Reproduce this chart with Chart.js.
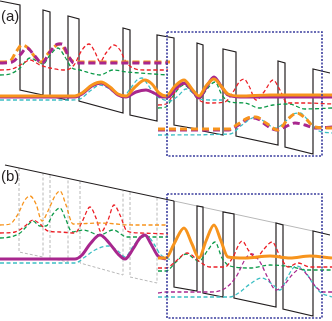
<!DOCTYPE html>
<html>
<head>
<meta charset="utf-8">
<script src="https://cdn.jsdelivr.net/npm/chart.js@4/dist/chart.umd.min.js"></script>
<style>
html,body{margin:0;padding:0;background:#fff;}
#wrap{position:relative;width:332px;height:321px;}
</style>
</head>
<body>
<div id="wrap"><canvas id="c" width="332" height="321"></canvas></div>
<script>
// ---- panel labels ----
const panelLabels = ["(a)", "(b)"];
const panelLabelPos = [[1, 17], [1, 177]];

// ---- band profiles (x, energy) ----
const bandA = [[0,1],[20,5],[20,90],[43,95],[43,10],[50,12],[50,96],[68,100],[68,16],[79,19],[79,101],[123,113],[123,28],[130,30],[130,115],[157,121],[157,35],[174,38],[174,125],[197,129],[197,43],[203,45],[203,131],[223,135],[223,49],[236,52],[236,136],[278,145],[278,61],[285,63],[285,147],[313,154],[313,69],[330,73]];
const bandBTop = [[5,165],[174,201]];
const bandBTopGray = [[174,201],[313,231]];
const bandBBox = [[174,201],[174,287],[197,291],[197,206],[203,207],[203,293],[223,297],[223,212],[234,214],[234,298],[276,307],[276,223],[283,225],[283,309],[313,316],[313,231],[330,235]];
const bandBGrayLeft = [[19,168],[19,252],[43,257],[43,173],[43,null],[50,175],[50,258],[68,262],[68,179],[68,null],[80,181],[80,263],[123,275],[123,191],[123,null],[130,192],[130,277],[157,283],[157,198]];

// ---- field regions (dashed boxes) ----
const boxA = [[167,32],[322,32],[322,156],[167,156],[167,32]];
const boxB = [[167,194],[322,194],[322,318],[167,318],[167,194]];

// ---- panel (a) states ----
const aOrangeUp = [[0,62],[10,61],[16,52],[22,45],[28,48],[35,57],[41,62],[47,55],[54,47],[60,44],[65,50],[70,59],[76,62],[100,62],[140,62],[170,62]];
const aMagentaUp = [[0,63],[12,62],[20,55],[27,48],[34,55],[42,63],[50,52],[58,44],[62,44],[68,55],[74,63],[100,63],[168,63]];
const aRedUp = [[0,70],[12,69],[22,64],[30,60],[40,65],[50,68],[65,70],[74,65],[82,50],[89,44],[95,52],[100,62],[106,53],[114,45],[120,50],[126,62],[133,68],[145,70],[168,70]];
const aGreenUp = [[0,75],[10,74],[20,68],[30,58],[37,61],[43,64],[50,55],[58,48],[65,57],[72,68],[80,70],[90,73],[100,75],[113,70],[127,72],[140,73],[168,75]];
const aOrangeSolid = [[0,96],[75,96],[82,93],[92,85],[101,82],[110,87],[118,94],[126,96],[134,88],[145,80],[152,84],[159,93],[166,96],[175,86],[184,80],[192,89],[199,96],[206,86],[214,79],[221,86],[228,94],[240,96],[270,95],[300,95],[332,95]];
const aMagentaSolid = [[0,97],[75,97],[82,94],[92,86],[101,83],[110,88],[118,95],[126,97],[136,92],[146,90],[154,93],[162,97],[168,97],[176,88],[184,83],[192,90],[199,98],[206,88],[214,77],[221,86],[228,95],[240,97],[332,97]];
const aCyanMid = [[0,100],[72,100],[80,99],[90,91],[100,85],[108,88],[115,93],[123,97],[130,89],[137,80],[142,78],[148,85],[155,95],[162,99],[170,101],[178,96],[186,89],[193,93],[200,99],[210,100],[222,100]];
const aRedMid = [[158,105],[166,104],[175,92],[184,84],[191,90],[199,100],[210,103],[225,102],[233,92],[240,81],[244,79],[249,86],[256,100],[264,92],[273,80],[280,90],[287,103],[305,103],[332,104]];
const aGreenMid = [[158,108],[166,107],[175,93],[184,85],[192,92],[199,99],[207,89],[215,82],[222,95],[230,102],[245,103],[259,108],[273,105],[289,104],[305,109],[332,108]];
const aOrangeLow = [[158,129],[229,129],[238,124],[248,118],[256,117],[266,123],[278,130],[288,119],[297,113],[305,118],[315,127],[332,128]];
const aMagentaLow = [[158,130],[229,130],[240,124],[250,118],[258,119],[266,125],[276,130],[285,127],[295,123],[305,125],[315,128],[332,127]];
const aCyanLow = [[158,135],[230,134],[242,125],[256,117],[265,122],[275,128],[283,124],[293,114],[300,113],[308,120],[319,131],[332,133]];

// ---- panel (b) states ----
const bOrangeUp = [[0,225],[10,224],[18,214],[25,200],[30,196],[36,204],[42,221],[48,211],[55,196],[60,191],[66,205],[73,224],[100,223],[133,225],[168,225]];
const bRedUp = [[0,233],[15,232],[25,226],[33,220],[40,224],[48,231],[60,232],[75,233],[82,222],[90,207],[96,218],[101,232],[108,220],[114,205],[120,215],[127,231],[140,233],[168,234]];
const bGreenUp = [[0,238],[10,237],[20,233],[27,226],[33,221],[40,226],[46,226],[53,214],[60,208],[66,220],[72,232],[83,230],[100,235],[113,230],[127,237],[168,237]];
const bMagentaSolid = [[0,259],[75,259],[82,255],[90,244],[100,235],[110,244],[118,254],[125,259],[133,249],[140,238],[145,235],[151,244],[158,256],[166,259]];
const bCyanLeft = [[0,263],[75,263],[85,257],[95,250],[108,246],[118,251],[125,257],[132,248],[140,238],[147,236],[154,244],[160,254],[166,258],[172,260]];
const bOrangeSolid = [[158,258],[166,258],[174,244],[184,228],[192,244],[199,258],[206,241],[214,225],[221,241],[228,257],[245,258],[270,256],[290,258],[310,256],[332,258]];
const bRedBox = [[158,268],[166,268],[175,262],[187,253],[200,262],[210,267],[225,267],[233,257],[242,241],[249,251],[256,258],[264,249],[272,242],[280,256],[288,267],[298,263],[310,267],[332,267]];
const bGreenBox = [[158,271],[166,271],[176,262],[186,254],[199,261],[208,250],[215,242],[222,258],[230,266],[250,268],[270,265],[293,267],[306,270],[332,270]];
const bMagentaBox = [[158,293],[166,292],[210,292],[224,289],[236,277],[246,258],[252,254],[260,262],[268,278],[276,290],[284,285],[292,275],[300,269],[308,276],[316,287],[324,292],[332,292]];
const bCyanBox = [[158,297],[230,297],[240,292],[250,284],[262,278],[272,284],[280,290],[288,276],[296,266],[304,270],[312,282],[320,292],[332,297]];

// ---- styling ----
const C = {orange:'#F7941D', magenta:'#A8278E', red:'#EC2027', green:'#0E9B4A', cyan:'#3DBFC4', black:'#231F20', gray:'#B8B8B8', blue:'#3B3E9E'};
const pts = a => a.map(p => ({x:p[0], y:p[1]}));
function curve(data, color, kind){
  const d = {data: pts(data), borderColor: color, pointRadius: 0, fill: false, spanGaps: false, borderCapStyle:'butt'};
  if (kind === 'thickSolid'){ d.borderWidth = 3; d.cubicInterpolationMode = 'monotone'; }
  else if (kind === 'thickDash'){ d.borderWidth = 3; d.borderDash = [7,4]; d.cubicInterpolationMode = 'monotone'; }
  else if (kind === 'thinDash'){ d.borderWidth = 1.3; d.borderDash = [4,2.5]; d.cubicInterpolationMode = 'monotone'; }
  else if (kind === 'band'){ d.borderWidth = 1.2; d.tension = 0; d.borderJoinStyle = 'miter'; }
  else if (kind === 'grayLine'){ d.borderWidth = 1; d.tension = 0; }
  else if (kind === 'grayDash'){ d.borderWidth = 1; d.borderDash = [3,2]; d.tension = 0; }
  else if (kind === 'box'){ d.borderWidth = 1.6; d.borderDash = [2,1.5]; d.tension = 0; }
  return d;
}

// first listed = drawn on top
const datasets = [
  curve(boxA, C.blue, 'box'),
  curve(boxB, C.blue, 'box'),
  curve(aOrangeSolid, C.orange, 'thickSolid'),
  curve(aMagentaSolid, C.magenta, 'thickSolid'),
  curve(aMagentaUp, C.magenta, 'thickDash'),
  curve(aOrangeUp, C.orange, 'thickDash'),
  curve(aOrangeLow, C.orange, 'thickDash'),
  curve(aMagentaLow, C.magenta, 'thickDash'),
  curve(aRedUp, C.red, 'thinDash'),
  curve(aGreenUp, C.green, 'thinDash'),
  curve(aCyanMid, C.cyan, 'thinDash'),
  curve(aRedMid, C.red, 'thinDash'),
  curve(aGreenMid, C.green, 'thinDash'),
  curve(aCyanLow, C.cyan, 'thinDash'),
  curve(bOrangeSolid, C.orange, 'thickSolid'),
  curve(bMagentaSolid, C.magenta, 'thickSolid'),
  curve(bOrangeUp, C.orange, 'thinDash'),
  curve(bRedUp, C.red, 'thinDash'),
  curve(bGreenUp, C.green, 'thinDash'),
  curve(bCyanLeft, C.cyan, 'thinDash'),
  curve(bRedBox, C.red, 'thinDash'),
  curve(bGreenBox, C.green, 'thinDash'),
  curve(bMagentaBox, C.magenta, 'thinDash'),
  curve(bCyanBox, C.cyan, 'thinDash'),
  curve(bandA, C.black, 'band'),
  curve(bandBTop, C.black, 'band'),
  curve(bandBBox, C.black, 'band'),
  curve(bandBTopGray, C.gray, 'grayLine'),
  curve(bandBGrayLeft, C.gray, 'grayDash')
];

const labelPlugin = {
  id: 'panelLabels',
  afterDraw(chart){
    const ctx = chart.ctx;
    ctx.save();
    ctx.fillStyle = C.black;
    ctx.font = '15px "Liberation Sans", Arial, sans-serif';
    ctx.textBaseline = 'middle';
    ctx.textAlign = 'left';
    panelLabels.forEach((t, i) => {
      const px = chart.scales.x.getPixelForValue(panelLabelPos[i][0]);
      const py = chart.scales.y.getPixelForValue(panelLabelPos[i][1]);
      ctx.fillText(t, px, py);
    });
    ctx.restore();
  }
};

new Chart(document.getElementById('c'), {
  type: 'line',
  data: { datasets },
  options: {
    responsive: false,
    devicePixelRatio: 1,
    animation: false,
    layout: { padding: 0 },
    plugins: { legend: {display:false}, tooltip: {enabled:false}, title: {display:false} },
    scales: {
      x: { type:'linear', min:0, max:332, display:false },
      y: { type:'linear', min:0, max:321, reverse:true, display:false }
    },
    elements: { line: { capBezierPoints: true } }
  },
  plugins: [labelPlugin]
});
</script>
</body>
</html>
